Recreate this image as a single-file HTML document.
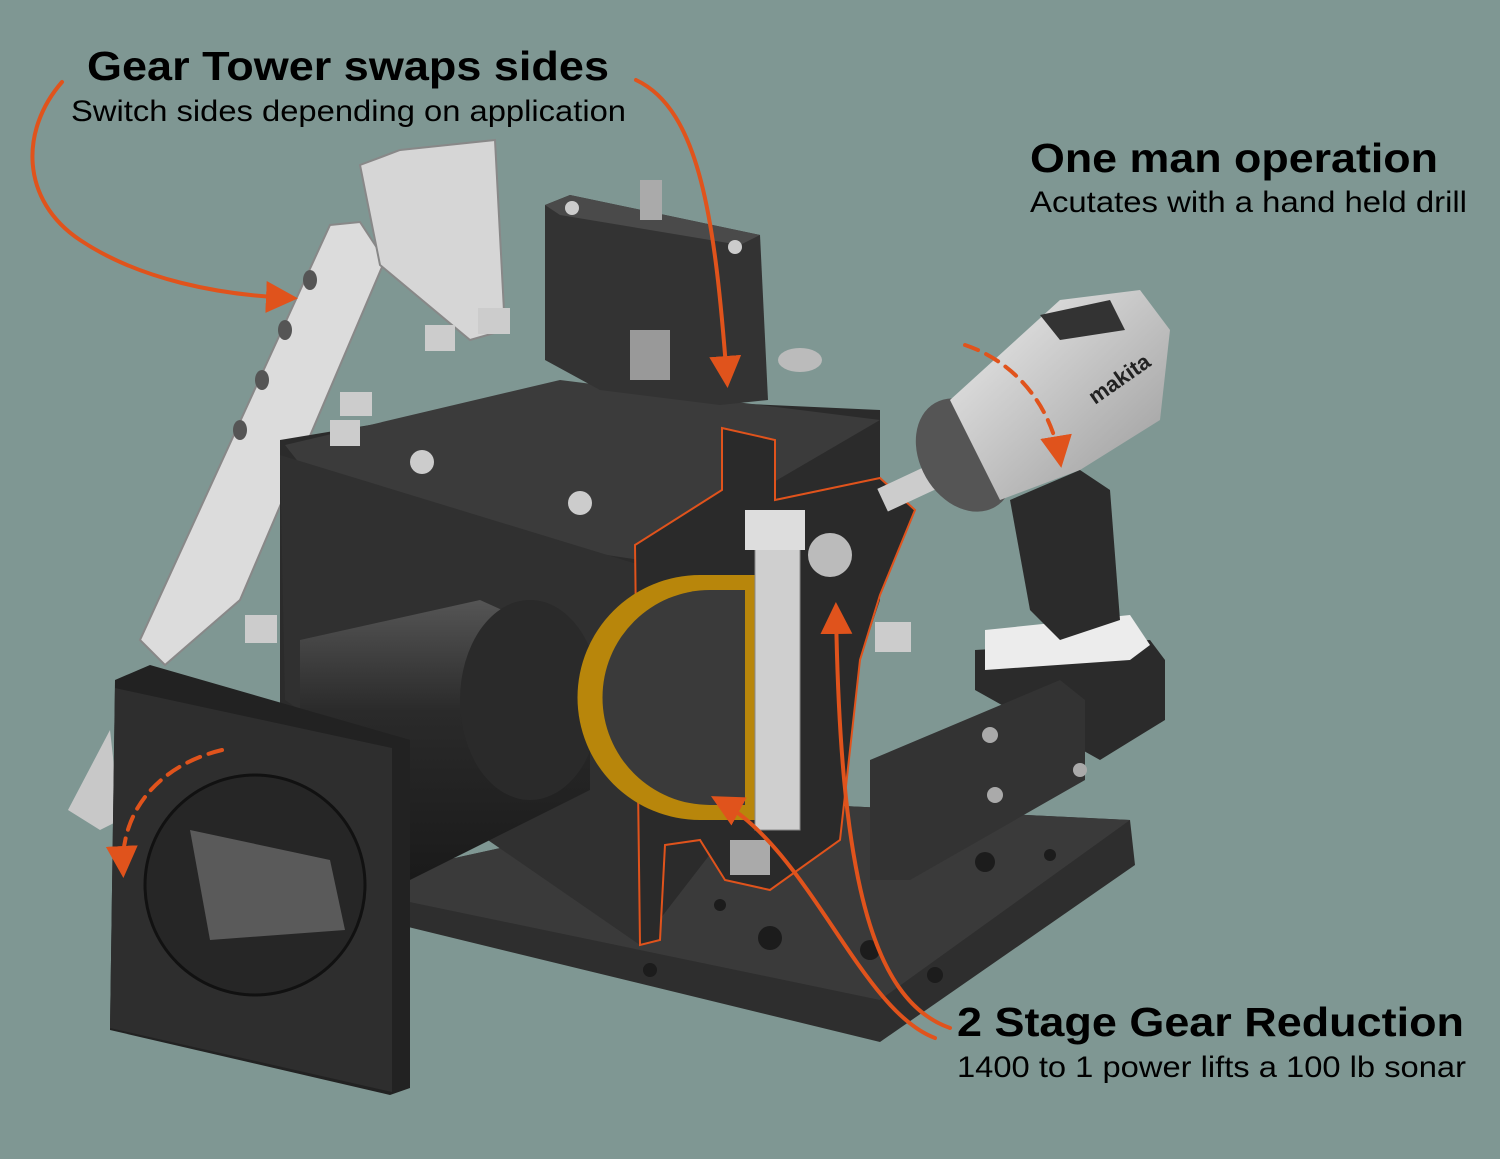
<!DOCTYPE html>
<html><head><meta charset="utf-8"><style>
html,body{margin:0;padding:0;background:#7f9793;}
svg{display:block}
text{font-family:"Liberation Sans",sans-serif;}
</style></head><body>
<svg width="1500" height="1159" viewBox="0 0 1500 1159" xmlns="http://www.w3.org/2000/svg">
<defs>
<marker id="ah" markerWidth="8" markerHeight="8" refX="6" refY="4" orient="auto" markerUnits="strokeWidth"><path d="M0,0 L8,4 L0,8 z" fill="#e0531c"/></marker>
<linearGradient id="cyl" x1="0" y1="0" x2="0" y2="1"><stop offset="0" stop-color="#555"/><stop offset="0.4" stop-color="#2a2a2a"/><stop offset="1" stop-color="#1a1a1a"/></linearGradient>
<linearGradient id="drill" x1="0" y1="0" x2="1" y2="1"><stop offset="0" stop-color="#eee"/><stop offset="1" stop-color="#999"/></linearGradient>
</defs>
<rect width="1500" height="1159" fill="#7f9793"/>

<!-- light bracket -->
<polygon points="68,810 110,730 120,820 100,830" fill="#c8c8c8"/>
<polygon points="140,640 330,225 360,222 385,260 240,600 165,665" fill="#dcdcdc" stroke="#888" stroke-width="2"/>
<polygon points="360,165 400,150 495,140 505,330 470,340 380,265" fill="#d6d6d6" stroke="#888" stroke-width="2"/>
<g fill="#555"><ellipse cx="310" cy="280" rx="7" ry="10"/><ellipse cx="285" cy="330" rx="7" ry="10"/><ellipse cx="262" cy="380" rx="7" ry="10"/><ellipse cx="240" cy="430" rx="7" ry="10"/></g>

<!-- base plate -->
<polygon points="400,870 720,800 1130,820 1135,865 880,1042 400,925" fill="#2e2e2e"/>
<polygon points="400,870 720,800 1130,820 880,1000 400,900" fill="#3a3a3a"/>
<g fill="#1c1c1c"><circle cx="770" cy="938" r="12"/><circle cx="985" cy="862" r="10"/><circle cx="870" cy="950" r="10"/><circle cx="935" cy="975" r="8"/><circle cx="720" cy="905" r="6"/><circle cx="650" cy="970" r="7"/><circle cx="1050" cy="855" r="6"/></g>

<!-- main box -->
<polygon points="280,440 550,395 880,410 880,600 860,660 640,945 600,905 280,705" fill="#2b2b2b"/>
<polygon points="285,445 560,380 880,420 640,560 340,515" fill="#3b3b3b"/>
<polygon points="280,455 640,565 640,945 285,700" fill="#303030"/>
<!-- tower -->
<polygon points="545,205 570,195 760,235 768,400 720,405 600,390 545,360" fill="#333"/>
<polygon points="545,205 570,195 760,235 740,245 560,215" fill="#4a4a4a"/>
<rect x="640" y="180" width="22" height="40" fill="#aaa"/>
<rect x="630" y="330" width="40" height="50" fill="#999"/>
<ellipse cx="800" cy="360" rx="22" ry="12" fill="#bbb"/>
<g fill="#ccc"><circle cx="422" cy="462" r="12"/><circle cx="580" cy="503" r="12"/><circle cx="572" cy="208" r="7"/><circle cx="735" cy="247" r="7"/></g>
<g fill="#ccc"><rect x="330" y="420" width="30" height="26"/><rect x="425" y="325" width="30" height="26"/><rect x="478" y="308" width="32" height="26"/><rect x="340" y="392" width="32" height="24"/><rect x="245" y="615" width="32" height="28"/><rect x="875" y="622" width="36" height="30"/></g>

<!-- cylinder -->
<polygon points="300,640 480,600 590,650 590,790 410,880 300,830" fill="url(#cyl)"/>
<ellipse cx="530" cy="700" rx="70" ry="100" fill="#2a2a2a"/>

<!-- flange -->
<polygon points="115,680 150,665 410,740 410,1088 390,1095 110,1030" fill="#222"/>
<polygon points="115,688 392,748 392,1092 110,1028" fill="#2e2e2e"/>
<ellipse cx="255" cy="885" rx="110" ry="110" fill="#262626" stroke="#111" stroke-width="3"/>
<path d="M190,830 L330,860 L345,930 L210,940 Z" fill="#5a5a5a"/>

<!-- cutaway -->
<polygon points="635,545 722,490 722,428 775,440 775,500 880,478 915,510 880,595 860,660 840,840 770,890 725,880 700,840 665,845 660,940 640,945" fill="#2a2a2a" stroke="#e0531c" stroke-width="2"/>
<path d="M700,575 A120,120 0 0 0 700,820 L760,820 L760,575 Z" fill="#b8860b"/>
<path d="M710,590 A105,105 0 0 0 710,805 L745,805 L745,590 Z" fill="#3a3a3a"/>
<rect x="755" y="540" width="45" height="290" fill="#cfcfcf" stroke="#888"/>
<rect x="745" y="510" width="60" height="40" fill="#ddd"/>
<circle cx="830" cy="555" r="22" fill="#bbb"/>
<rect x="730" y="840" width="40" height="35" fill="#aaa"/>

<!-- drill battery -->
<polygon points="975,650 1150,640 1165,660 1165,720 1100,760 975,690" fill="#2b2b2b"/>
<polygon points="985,630 1130,615 1150,645 1130,660 985,670" fill="#ececec"/>
<!-- right bracket lower -->
<polygon points="870,760 1060,680 1085,700 1085,780 910,880 870,880" fill="#333"/>
<g fill="#aaa"><circle cx="990" cy="735" r="8"/><circle cx="995" cy="795" r="8"/><circle cx="1080" cy="770" r="7"/></g>

<!-- drill -->
<rect x="880" y="475" width="60" height="25" fill="#ccc" transform="rotate(-25 910 488)"/>
<ellipse cx="965" cy="455" rx="45" ry="60" fill="#555" transform="rotate(-30 965 455)"/>
<polygon points="950,400 1060,300 1140,290 1170,330 1160,420 1080,470 1000,500" fill="url(#drill)"/>
<polygon points="1010,500 1080,470 1110,490 1120,620 1060,640 1030,610" fill="#2b2b2b"/>
<polygon points="1040,315 1110,300 1125,330 1060,340" fill="#333"/>
<text x="1095" y="405" font-size="22" font-weight="bold" fill="#222" transform="rotate(-35 1095 405)">makita</text>

<!-- orange arrows -->
<g fill="none" stroke="#e0531c" stroke-width="4" stroke-linecap="round">
<path d="M62,82 C20,130 20,200 80,240 C140,280 220,295 290,298" marker-end="url(#ah)"/>
<path d="M636,80 C700,110 715,220 727,380" marker-end="url(#ah)"/>
<path d="M965,345 C1010,360 1050,400 1060,460" stroke-dasharray="14 9" marker-end="url(#ah)"/>
<path d="M222,750 C160,765 120,810 123,870" stroke-dasharray="14 9" marker-end="url(#ah)"/>
<path d="M950,1028 C870,1000 840,870 836,610" marker-end="url(#ah)"/>
<path d="M935,1038 C860,1010 810,850 718,800" marker-end="url(#ah)"/>
</g>

<!-- text -->
<text x="87" y="80" font-size="41" font-weight="bold" fill="#000" textLength="522" lengthAdjust="spacingAndGlyphs">Gear Tower swaps sides</text>
<text x="71" y="121" font-size="30" fill="#000" textLength="555" lengthAdjust="spacingAndGlyphs">Switch sides depending on application</text>
<text x="1030" y="172" font-size="41" font-weight="bold" fill="#000" textLength="408" lengthAdjust="spacingAndGlyphs">One man operation</text>
<text x="1030" y="212" font-size="30" fill="#000" textLength="437" lengthAdjust="spacingAndGlyphs">Acutates with a hand held drill</text>
<text x="957" y="1036" font-size="41" font-weight="bold" fill="#000" textLength="507" lengthAdjust="spacingAndGlyphs">2 Stage Gear Reduction</text>
<text x="957" y="1077" font-size="30" fill="#000" textLength="509" lengthAdjust="spacingAndGlyphs">1400 to 1 power lifts a 100 lb sonar</text>
</svg>
</body></html>
